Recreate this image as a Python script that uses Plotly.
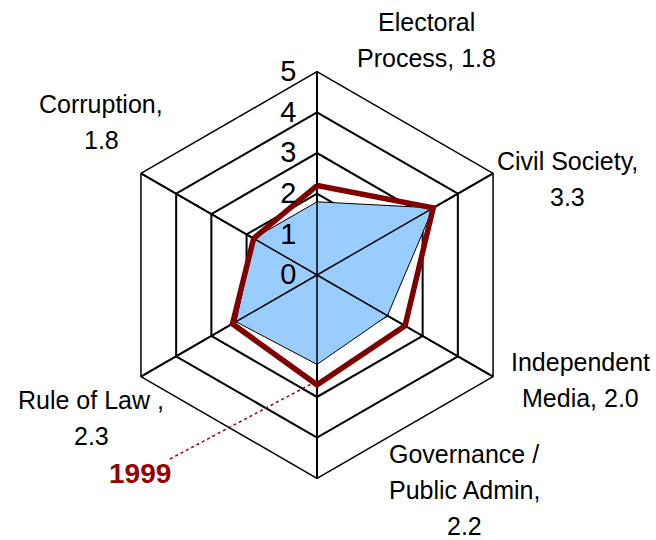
import plotly.graph_objects as go

categories = ["Electoral Process", "Civil Society", "Independent Media",
              "Governance / Public Admin", "Rule of Law", "Corruption"]
label_lines = [["Electoral", "Process, 1.8"], ["Civil Society,", "3.3"], ["Independent", "Media, 2.0"],
               ["Governance /", "Public Admin,", "2.2"], ["Rule of Law ,", "2.3"], ["Corruption,", "1.8"]]
current_values = [1.8, 3.3, 2.0, 2.2, 2.3, 1.8]
values_1999 = [2.2, 3.3, 2.5, 2.7, 2.4, 1.8]
radial_ticks = [0, 1, 2, 3, 4, 5]

W, H = 656, 540
FONT = "Arial, Liberation Sans, sans-serif"

# polar domain in pixels
cx, cy, R = 317, 275, 203.3

fig = go.Figure()

# current (blue filled)
fig.add_trace(go.Scatterpolar(
    r=current_values + current_values[:1], theta=categories + categories[:1],
    mode="lines", fill="toself", fillcolor="#99CCFF",
    line=dict(color="black", width=1), showlegend=False, hoverinfo="skip"))

# spokes drawn above the fill
for c in categories:
    fig.add_trace(go.Scatterpolar(
        r=[radial_ticks[0], radial_ticks[-1]], theta=[c, c], mode="lines",
        line=dict(color="black", width=1.5), showlegend=False, hoverinfo="skip"))

# 1999 line
fig.add_trace(go.Scatterpolar(
    r=values_1999 + values_1999[:1], theta=categories + categories[:1],
    mode="lines", line=dict(color="#800000", width=5.5),
    showlegend=False, hoverinfo="skip"))

fig.update_layout(
    width=W, height=H,
    margin=dict(l=0, r=0, t=0, b=0),
    paper_bgcolor="white", plot_bgcolor="white",
    font=dict(family=FONT, color="black"),
    polar=dict(
        domain=dict(x=[(cx - R) / W, (cx + R) / W], y=[(H - cy - R) / H, (H - cy + R) / H]),
        bgcolor="white",
        gridshape="linear",
        angularaxis=dict(rotation=90, direction="clockwise", showticklabels=False,
                         ticks="", showline=True, linecolor="black", linewidth=1.5,
                         showgrid=True, gridcolor="black", gridwidth=1.5),
        radialaxis=dict(range=[0, 5], tickvals=radial_ticks, angle=90,
                        side="counterclockwise", ticks="outside", ticklen=10,
                        tickcolor="rgba(0,0,0,0)", showline=False,
                        showgrid=True, gridcolor="black", gridwidth=1.5,
                        tickfont=dict(size=29, family=FONT, color="black"), tickangle=90),
    ),
)

LINE_H = 36
label_pos = [(426, 40), (567, 179), (580, 380), (464, 490), (91, 418), (101, 122)]
for lines, (px, py) in zip(label_lines, label_pos):
    n = len(lines)
    for i, ln in enumerate(lines):
        yy = py + (i - (n - 1) / 2) * LINE_H
        fig.add_annotation(x=px / W, y=1 - yy / H, xref="paper", yref="paper",
                           text=ln, showarrow=False, xanchor="center", yanchor="middle",
                           font=dict(size=25, family=FONT, color="black"))

fig.add_annotation(x=140 / W, y=1 - 473 / H, xref="paper", yref="paper",
                   text="<b>1999</b>", showarrow=False, xanchor="center", yanchor="middle",
                   font=dict(size=28, family=FONT, color="#990000"))
fig.add_shape(type="line", xref="paper", yref="paper",
              x0=170 / W, y0=1 - 459 / H, x1=313 / W, y1=1 - 383 / H,
              line=dict(color="#990000", width=1.5, dash="dot"))

fig.write_html("out.html", config={"displayModeBar": False},
               post_script="document.body.style.margin='0';")
